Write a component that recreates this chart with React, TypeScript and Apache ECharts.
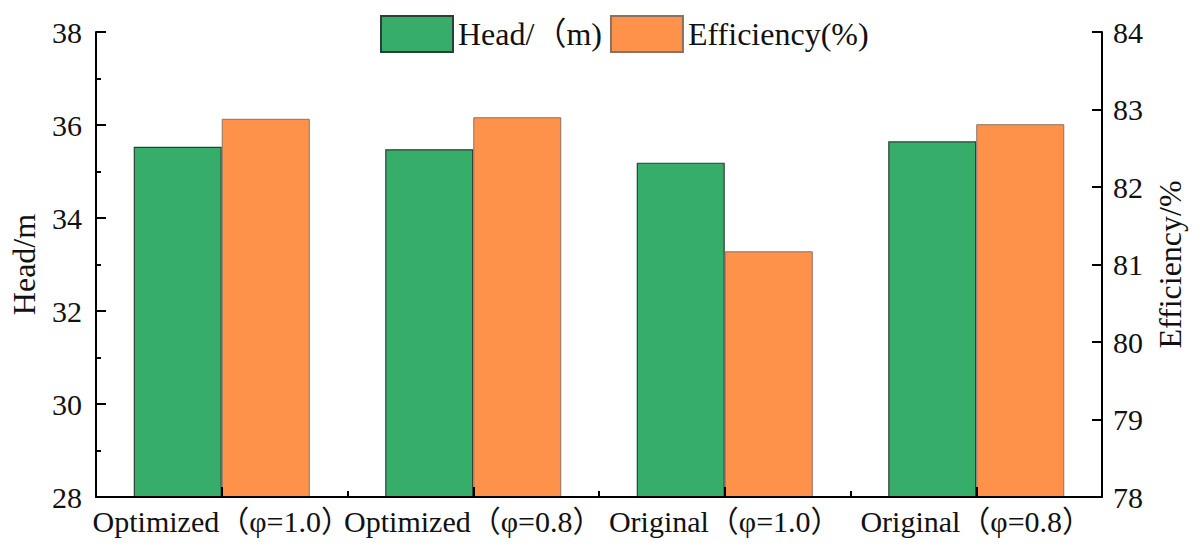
import React, { useEffect, useRef } from "react";
import * as echarts from "echarts";

const categories = [
  "Optimized（φ=1.0）",
  "Optimized（φ=0.8）",
  "Original（φ=1.0）",
  "Original（φ=0.8）",
];
const headValues = [35.53, 35.48, 35.19, 35.65];
const efficiencyValues = [82.88, 82.9, 81.17, 82.81];
const headTicks = { min: 28, max: 38, interval: 2 };
const effTicks = { min: 78, max: 84, interval: 1 };

const FONT = "'Liberation Serif', 'Times New Roman', 'Noto Sans CJK SC', serif";

export default function App() {
  const ref = useRef<HTMLDivElement>(null);
  useEffect(() => {
    if (!ref.current) return;
    const chart = echarts.init(ref.current, undefined, { renderer: "svg" });
    const axisLine = { show: true, lineStyle: { color: "#000", width: 2 } };
    chart.setOption({
      animation: false,
      backgroundColor: "#fff",
      textStyle: { fontFamily: FONT, color: "#000" },
      legend: {
        left: 375,
        top: 10,
        icon: "rect",
        itemWidth: 72,
        itemHeight: 36,
        itemGap: 8,
        textStyle: { fontFamily: FONT, fontSize: 32, color: "#111" },
        data: ["Head/（m)", "Efficiency(%)"],
      },
      grid: { left: 96, right: 99, top: 32, bottom: 59, containLabel: false },
      xAxis: [
        {
          type: "category",
          data: categories,
          position: "bottom",
          axisLine,
          axisTick: {
            show: true,
            inside: true,
            alignWithLabel: true,
            length: 10,
            lineStyle: { color: "#000", width: 2 },
          },
          axisLabel: {
            fontFamily: FONT,
            fontSize: 30,
            color: "#111",
            margin: 9,
            interval: 0,
          },
          z: 5,
        },
        {
          type: "category",
          data: categories,
          position: "bottom",
          axisLine: { show: false },
          axisTick: {
            show: true,
            inside: true,
            length: 6,
            lineStyle: { color: "#000", width: 2 },
          },
          axisLabel: { show: false },
          z: 5,
        },
      ],
      yAxis: [
        {
          type: "value",
          name: "Head/m",
          nameLocation: "middle",
          nameGap: 56,
          nameTextStyle: { fontFamily: FONT, fontSize: 32, color: "#111" },
          min: headTicks.min,
          max: headTicks.max,
          interval: headTicks.interval,
          axisLine,
          axisTick: {
            show: true,
            inside: true,
            length: 10,
            lineStyle: { color: "#000", width: 2 },
          },
          minorTick: {
            show: true,
            splitNumber: 2,
            length: 5,
            lineStyle: { color: "#000", width: 2 },
          },
          axisLabel: { fontFamily: FONT, fontSize: 30, color: "#111", margin: 14 },
          splitLine: { show: false },
          z: 5,
        },
        {
          type: "value",
          name: "Efficiency/%",
          nameLocation: "middle",
          nameGap: 52,
          nameRotate: 90,
          nameTextStyle: { fontFamily: FONT, fontSize: 32, color: "#111" },
          position: "right",
          min: effTicks.min,
          max: effTicks.max,
          interval: effTicks.interval,
          axisLine,
          axisTick: {
            show: true,
            inside: true,
            length: 10,
            lineStyle: { color: "#000", width: 2 },
          },
          axisLabel: { fontFamily: FONT, fontSize: 30, color: "#111", margin: 11 },
          splitLine: { show: false },
          z: 5,
        },
      ],
      series: [
        {
          name: "Head/（m)",
          type: "bar",
          xAxisIndex: 0,
          yAxisIndex: 0,
          data: headValues,
          barGap: "0%",
          barCategoryGap: "30%",
          itemStyle: { color: "#37AD6A", borderColor: "#2d3f35", borderWidth: 1.2 },
        },
        {
          name: "Efficiency(%)",
          type: "bar",
          xAxisIndex: 0,
          yAxisIndex: 1,
          data: efficiencyValues,
          barGap: "0%",
          barCategoryGap: "30%",
          itemStyle: { color: "#FE924A", borderColor: "#8a7262", borderWidth: 1 },
        },
      ],
    });
    return () => chart.dispose();
  }, []);
  return (
    <div
      ref={ref}
      style={{ position: "fixed", left: 0, top: 0, width: 1201, height: 556, background: "#fff" }}
    />
  );
}
